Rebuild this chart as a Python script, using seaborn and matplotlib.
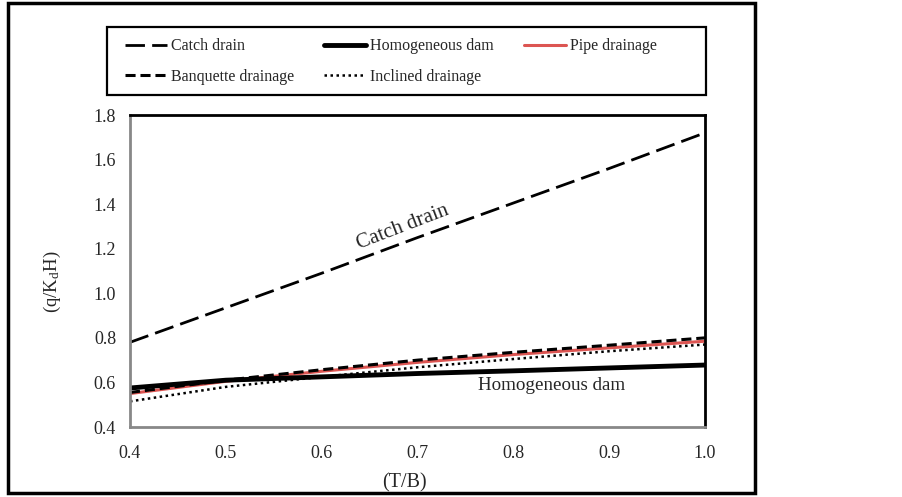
import matplotlib as mpl
mpl.use('Agg')
import matplotlib.pyplot as plt
from matplotlib import ticker
from matplotlib.lines import Line2D
from matplotlib.patches import Rectangle
import seaborn as sns

# T/B values
tb = [0.4, 0.5, 0.6, 0.7, 0.8, 0.9, 1.0]
catch_drain = [0.78, 0.935, 1.09, 1.25, 1.405, 1.56, 1.72]
homogeneous_dam = [0.575, 0.61, 0.625, 0.64, 0.652, 0.665, 0.678]
pipe_drainage = [0.55, 0.605, 0.65, 0.69, 0.725, 0.755, 0.785]
banquette_drainage = [0.555, 0.61, 0.657, 0.7, 0.735, 0.767, 0.8]
inclined_drainage = [0.515, 0.58, 0.625, 0.668, 0.705, 0.74, 0.77]

sns.set_style('white')
plt.rcParams['font.family'] = ['Liberation Serif', 'DejaVu Serif']
plt.rcParams['mathtext.fontset'] = 'custom'
plt.rcParams['mathtext.rm'] = 'Liberation Serif'
plt.rcParams['mathtext.it'] = 'Liberation Serif'

fig = plt.figure(figsize=(9.03, 4.97), dpi=100)
W, H = 903, 497
ax = fig.add_axes([130 / W, 1 - 427 / H, 575 / W, 312 / H])

sns.lineplot(x=tb, y=catch_drain, ax=ax, color='black', lw=2.0,
             linestyle=(0, (7, 2.6)), label='Catch drain')
sns.lineplot(x=tb, y=banquette_drainage, ax=ax, color='black', lw=2.2,
             linestyle=(0, (3.3, 1.6)), label='Banquette drainage')
sns.lineplot(x=tb, y=homogeneous_dam, ax=ax, color='black', lw=3.5,
             label='Homogeneous dam')
sns.lineplot(x=tb, y=inclined_drainage, ax=ax, color='black', lw=1.8,
             linestyle=(0, (1, 1.4)), label='Inclined drainage')
sns.lineplot(x=tb, y=pipe_drainage, ax=ax, color='#DC5552', lw=2.2,
             label='Pipe drainage')
# keep pipe drainage under the banquette dashes as in the original
ax.lines[-1].set_zorder(1.5)

ax.set_xlim(0.4, 1.0)
ax.set_ylim(0.4, 1.8)
ax.xaxis.set_major_locator(ticker.MultipleLocator(0.1))
ax.xaxis.set_minor_locator(ticker.MultipleLocator(0.05))
ax.yaxis.set_major_locator(ticker.MultipleLocator(0.2))
ax.yaxis.set_minor_locator(ticker.MultipleLocator(0.1))
ax.xaxis.set_major_formatter(ticker.FormatStrFormatter('%.1f'))
ax.yaxis.set_major_formatter(ticker.FormatStrFormatter('%.1f'))
ax.tick_params(which='both', direction='in', color='#888888', labelsize=13)
ax.tick_params(which='major', length=4, width=1.2)
ax.tick_params(which='minor', length=3, width=1.2)
ax.tick_params(axis='x', pad=13)
ax.tick_params(axis='y', pad=10)
for s in ['left', 'bottom']:
    ax.spines[s].set_color('#888888')
    ax.spines[s].set_linewidth(2)
for s in ['top', 'right']:
    ax.spines[s].set_color('black')
    ax.spines[s].set_linewidth(2)

ax.set_xlabel('(T/B)', fontsize=14.5)
ax.set_ylabel(r'(q/K$_\mathregular{d}$H)', fontsize=13.5)
ax.xaxis.set_label_coords(0.4765, -0.147)
ax.yaxis.set_label_coords(-0.116, 0.465)

ax.text(0.685, 1.295, 'Catch drain', fontsize=15, rotation=21,
        ha='center', va='center')
ax.text(0.84, 0.586, 'Homogeneous dam', fontsize=13.7, ha='center', va='center')

handles, labels = ax.get_legend_handles_labels()
ax.get_legend().remove()
fig.legend(handles, labels, ncol=3, loc='upper left',
           bbox_to_anchor=(119 / W, 1 - 32 / H), fontsize=11.5,
           frameon=False, handlelength=2.6, handletextpad=0.25,
           borderpad=0.4, labelspacing=0.9, columnspacing=1.9,
           borderaxespad=0)
fig.add_artist(Rectangle((107 / W, 1 - 95 / H), 599 / W, 68 / H,
                         transform=fig.transFigure, fill=False,
                         edgecolor='black', lw=1.6))

# outer frame around the figure content
fig.add_artist(Rectangle((8 / W, 1 - 493 / H), 747 / W, 490 / H,
                         transform=fig.transFigure, fill=False,
                         edgecolor='black', lw=2.5))

fig.savefig('out.png', dpi=100)
